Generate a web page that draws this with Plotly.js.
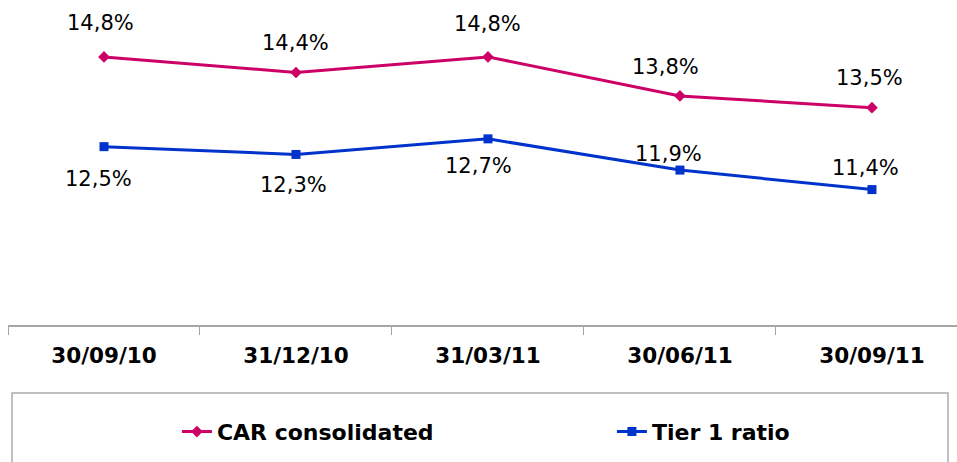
<!DOCTYPE html>
<html>
<head>
<meta charset="utf-8">
<script src="https://cdn.plot.ly/plotly-3.0.1.min.js"></script>
<style>html,body{margin:0;padding:0;background:#fff;}#chart{width:957px;height:462px;}</style>
</head>
<body>
<div id="chart"></div>
<script>
const categories = ['30/09/10', '31/12/10', '31/03/11', '30/06/11', '30/09/11'];
const carValues = [14.8, 14.4, 14.8, 13.8, 13.5];
const tierValues = [12.5, 12.3, 12.7, 11.9, 11.4];
const carName = 'CAR consolidated';
const tierName = 'Tier 1 ratio';

const fmt = v => v.toFixed(1).replace('.', ',') + '%';
const FONT = 'DejaVu Sans, Verdana, sans-serif';

const traces = [
  {x: categories, y: carValues, name: carName, type: 'scatter', mode: 'lines+markers',
   line: {color: '#CC0066', width: 3}, marker: {symbol: 'diamond', size: 9, color: '#CC0066'}},
  {x: categories, y: tierValues, name: tierName, type: 'scatter', mode: 'lines+markers',
   line: {color: '#0033CC', width: 3}, marker: {symbol: 'square', size: 9, color: '#0033CC'}}
];

// label placement (style, not data)
const carShift = [34, 30, 33, 29, 30];
const carX = [-3, 0, 0, -14, -2];
const tierShift = [-32, -31, -27, 16, 22];
const tierX = [-5, -2, -9, -11, -6];

const annotations = [];
categories.forEach((c, i) => {
  annotations.push({x: c, y: carValues[i], text: fmt(carValues[i]), showarrow: false,
    yshift: carShift[i], xshift: carX[i], font: {family: FONT, size: 21, color: '#000'}});
  annotations.push({x: c, y: tierValues[i], text: fmt(tierValues[i]), showarrow: false,
    yshift: tierShift[i], xshift: tierX[i], font: {family: FONT, size: 21, color: '#000'}});
});

const layout = {
  width: 957, height: 462,
  margin: {l: 8, r: 0, t: 5, b: 137, autoexpand: false},
  paper_bgcolor: '#fff', plot_bgcolor: '#fff',
  showlegend: true,
  legend: {orientation: 'h', x: 0.178, xanchor: 'left', y: -0.268, yanchor: 'top',
    entrywidth: 390, font: {family: FONT, size: 22, color: '#000', weight: 'bold'},
    bgcolor: 'rgba(0,0,0,0)'},
  xaxis: {type: 'category', range: [-0.5, 4.443], showline: true, linecolor: '#a6a6a6', linewidth: 2,
    ticks: 'outside', tickson: 'boundaries', ticklen: 8, tickcolor: '#a6a6a6', tickwidth: 1,
    ticklabelstandoff: 10,
    showgrid: false, zeroline: false, fixedrange: true,
    tickfont: {family: FONT, size: 21.5, color: '#000', weight: 'bold'}},
  yaxis: {range: [7.93, 16.13], visible: false, showgrid: false, zeroline: false, fixedrange: true},
  annotations: annotations,
  shapes: [{type: 'rect', xref: 'paper', yref: 'paper', x0: 0.0042, x1: 0.9905, y0: -0.2125, y1: -0.5,
    line: {color: '#c0c0c0', width: 2}, fillcolor: 'rgba(0,0,0,0)', layer: 'below'}]
};

Plotly.newPlot('chart', traces, layout, {displayModeBar: false, staticPlot: true});
</script>
</body>
</html>
